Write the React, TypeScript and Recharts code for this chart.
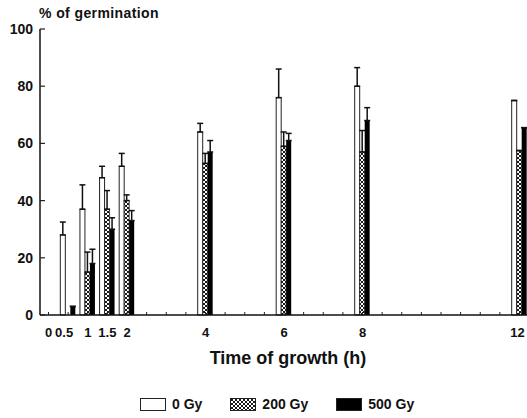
import React from 'react';
import { ComposedChart, Bar, ErrorBar, XAxis, YAxis, Legend } from 'recharts';

// time of growth (h) and % germination per dose
const times = [0.5, 1, 1.5, 2, 4, 6, 8, 12];
const gy0 = [28, 37, 48, 52, 64, 76, 80, 75];
const gy0Err = [4.5, 8.5, 4, 4.5, 3, 10, 6.5, 0];
const gy200 = [null, 15, 37, 40, 53, 59, 57, 57.5];
const gy200Err = [0, 7, 6.5, 2, 3.5, 5, 7.5, 0];
const gy500 = [3, 18, 30, 33, 57, 61, 68, 65.5];
const gy500Err = [0, 5, 4, 3.5, 4, 2.5, 4.5, 0];

const xTickLabels = [0, 0.5, 1, 1.5, 2, 4, 6, 8, 12];
const xMinorTicks = [0, 0.5, 1, 1.5, 2, 2.5, 3, 3.5, 4, 4.5, 5, 5.5, 6, 6.5, 7, 7.5, 8, 8.5, 9, 9.5, 10, 10.5, 11, 11.5, 12];
const yTicks = [0, 20, 40, 60, 80, 100];

const data = times.map((t, i) => ({
  time: t,
  gy0: gy0[i],
  gy0Err: [0, gy0Err[i]],
  gy200: gy200[i],
  gy200Err: [0, gy200Err[i]],
  gy500: gy500[i],
  gy500Err: [0, gy500Err[i]],
}));

const font = '"Liberation Sans", Arial, sans-serif';

function XTick({ x, y, payload }: any) {
  const v = payload.value;
  const show = xTickLabels.includes(v);
  // the 0.5 label sits a bit left in the original so it doesn't run into "1"
  const dx = v === 0.5 ? -4 : v === 12 ? -2 : 0;
  return (
    <g>
      <line x1={x} y1={y} x2={x} y2={y - 3} stroke="#222" strokeWidth={1} />
      {show && (
        <text x={x + dx} y={y + 22} textAnchor="middle" fontSize={13} fontWeight="bold" fontFamily={font} fill="#111">
          {v}
        </text>
      )}
    </g>
  );
}

function YTick({ x, y, payload }: any) {
  return (
    <g>
      <line x1={x + 7} y1={y} x2={x + 12} y2={y} stroke="#222" strokeWidth={1.2} />
      <text x={x} y={y + 5} textAnchor="end" fontSize={14} fontWeight="bold" fontFamily={font} fill="#111">
        {payload.value}
      </text>
    </g>
  );
}

function LegendContent({ payload }: any) {
  return (
    <div style={{ display: 'flex', alignItems: 'center', fontFamily: font, fontSize: 14, fontWeight: 'bold', color: '#111' }}>
      {(payload || []).map((p: any) => (
        <div key={p.value} style={{ display: 'flex', alignItems: 'center', marginRight: 28 }}>
          <svg width={26} height={13} style={{ marginRight: 6 }}>
            <rect x={0.5} y={0.5} width={25} height={12} fill={p.color} stroke="#222" strokeWidth={1} />
          </svg>
          <span>{p.value}</span>
        </div>
      ))}
    </div>
  );
}

export default function App() {
  return (
    <div style={{ position: 'absolute', left: 0, top: 0, background: '#fff' }}>
      <ComposedChart width={527} height={418} data={data} margin={{ top: 29, right: 0, bottom: 73, left: 0 }} barGap={0} barSize={5}>
        <defs>
          <pattern id="hatch" width="4" height="4" patternUnits="userSpaceOnUse">
            <rect width="4" height="4" fill="#fff" />
            <path d="M0,0 L4,4 M4,0 L0,4" stroke="#000" strokeWidth={0.9} />
          </pattern>
        </defs>
        <XAxis
          dataKey="time"
          type="number"
          domain={[-0.2166, 12.191]}
          allowDataOverflow
          ticks={xMinorTicks}
          interval={0}
          tick={<XTick />}
          tickLine={false}
          tickSize={0}
          tickMargin={0}
          stroke="#111"
          strokeWidth={1.5}
          label={() => (
            <text x={288} y={364} textAnchor="middle" fontSize={18} fontWeight="bold" fontFamily={font} fill="#111">
              Time of growth (h)
            </text>
          )}
        />
        <YAxis
          type="number"
          domain={[0, 100]}
          ticks={yTicks}
          width={40}
          tick={<YTick />}
          tickLine={false}
          tickSize={0}
          tickMargin={7}
          stroke="#111"
          strokeWidth={1.5}
          label={() => (
            <text x={39} y={18} textAnchor="start" fontSize={14} letterSpacing={0.4} fontWeight="bold" fontFamily={font} fill="#111">
              % of germination
            </text>
          )}
        />
        <Bar dataKey="gy0" name="0 Gy" fill="#fff" stroke="#222" strokeWidth={1} isAnimationActive={false}>
          <ErrorBar dataKey="gy0Err" width={3} stroke="#111" strokeWidth={1.5} direction="y" />
        </Bar>
        <Bar dataKey="gy200" name="200 Gy" fill="url(#hatch)" stroke="#222" strokeWidth={0.8} isAnimationActive={false}>
          <ErrorBar dataKey="gy200Err" width={3} stroke="#111" strokeWidth={1.5} direction="y" />
        </Bar>
        <Bar dataKey="gy500" name="500 Gy" fill="#000" isAnimationActive={false}>
          <ErrorBar dataKey="gy500Err" width={3} stroke="#111" strokeWidth={1.5} direction="y" />
        </Bar>
        <Legend
          layout="horizontal"
          verticalAlign="middle"
          align="center"
          content={<LegendContent />}
          wrapperStyle={{ top: 396, left: 140, width: 320 }}
        />
      </ComposedChart>
    </div>
  );
}
